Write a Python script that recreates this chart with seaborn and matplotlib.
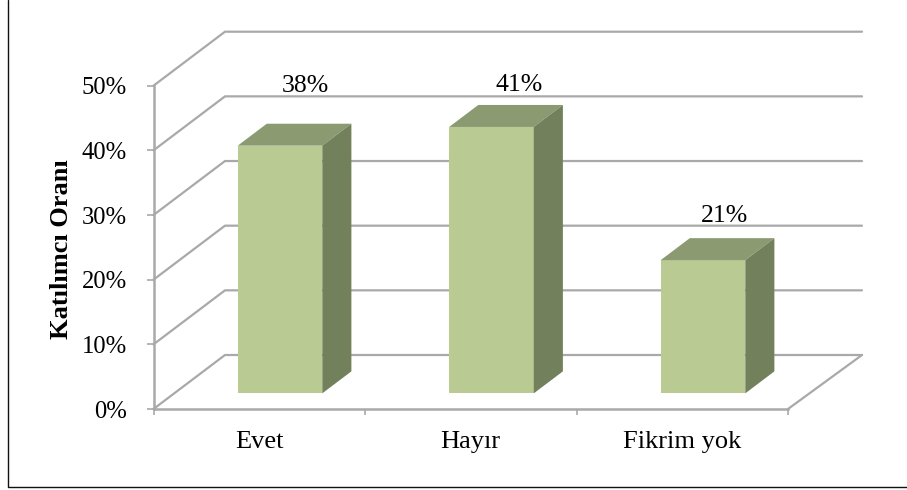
import matplotlib
matplotlib.use("Agg")
import matplotlib.pyplot as plt
import pandas as pd
import seaborn as sns
from matplotlib.lines import Line2D

categories = ["Evet", "Hayır", "Fikrim yok"]
values = [38.3, 41.2, 20.6]
value_labels = ["38%", "41%", "21%"]
y_ticks = [0, 10, 20, 30, 40, 50]
y_tick_labels = ["0%", "10%", "20%", "30%", "40%", "50%"]

df = pd.DataFrame({"Cevap": categories, "Oran": values})

sns.set_style("white")
plt.rcParams["font.family"] = ["Liberation Serif", "DejaVu Serif"]

GRID = "#a9a9a9"
FRONT = "#b9cb93"
TOP = "#8b9a70"
SIDE = "#72805c"

W, H = 907, 490
fig = plt.figure(figsize=(W / 100, H / 100), dpi=100)
ax = fig.add_axes([153.5 / W, (H - 409) / H, 634.5 / W, 323.3 / H])

sns.barplot(data=df, x="Cevap", y="Oran", color=FRONT, saturation=1, width=0.4, ax=ax,
            zorder=3, linewidth=0)
ax.set_xlim(-0.5, 2.5)
ax.set_ylim(0, 50)

# depth of the fake 3d box, in data units
depth_x = 71.5 / 211.5
depth_y = 54 / 6.466
back_right = 2.5 + 74 / 211.5

# back wall and floor
for t in y_ticks:
    ax.plot([-0.5, -0.5 + depth_x, back_right], [t, t + depth_y, t + depth_y],
            color=GRID, lw=1.6, clip_on=False, zorder=1)
ax.plot([2.5, back_right], [0, depth_y], color=GRID, lw=1.6, clip_on=False, zorder=1)

# push the bars into the box, then add top and side faces
front_offset = 0.29
bar_depth = 0.407
for bar in ax.patches:
    x0 = bar.get_x() + depth_x * front_offset
    y0 = depth_y * front_offset
    w = bar.get_width()
    h = bar.get_height()
    bar.set_x(x0)
    bar.set_y(y0)
    bar.set_clip_on(False)
    bx = depth_x * bar_depth
    by = depth_y * bar_depth
    ax.fill([x0, x0 + w, x0 + w + bx, x0 + bx], [y0 + h, y0 + h, y0 + h + by, y0 + h + by],
            color=TOP, lw=0, clip_on=False, zorder=3)
    ax.fill([x0 + w, x0 + w + bx, x0 + w + bx, x0 + w], [y0, y0 + by, y0 + h + by, y0 + h],
            color=SIDE, lw=0, clip_on=False, zorder=3)

# labels were moved by hand in the original, offsets in points
label_offsets = [(18.4, 43.3), (20, 30.5), (15.6, 32)]
for bar, txt, off in zip(ax.patches, value_labels, label_offsets):
    ax.annotate(txt, (bar.get_x() + bar.get_width() / 2, bar.get_y() + bar.get_height()),
                xytext=off, textcoords="offset points", ha="center", va="center",
                fontsize=18.5, color="black", annotation_clip=False, zorder=5)

sns.despine(ax=ax)
for side in ["left", "bottom"]:
    ax.spines[side].set_color(GRID)
    ax.spines[side].set_linewidth(1.8)
    ax.spines[side].set_zorder(2)

ax.set_yticks(y_ticks)
ax.set_yticklabels(y_tick_labels, fontsize=17.7)
ax.tick_params(axis="y", left=True, length=5, width=1.2, color=GRID, pad=14, labelcolor="black")
ax.set_xticks(range(len(categories)))
ax.set_xticklabels(categories, fontsize=19)
ax.set_xticks([-0.5, 0.5, 1.5, 2.5], minor=True)
ax.tick_params(axis="x", which="major", bottom=False, pad=12.5, labelcolor="black")
ax.tick_params(axis="x", which="minor", bottom=True, length=4, width=1.2, color=GRID)

ax.set_xlabel("")
ax.set_ylabel("")
fig.text(61.5 / W, 1 - 249 / H, "Katılımcı Oranı", rotation=90, ha="center", va="center",
         fontsize=19, fontweight="bold", color="black")

# only the left and bottom edges of the outer frame show
fig.add_artist(Line2D([7.5 / W, 7.5 / W, 1], [1, 1 - 486.5 / H, 1 - 486.5 / H],
                      transform=fig.transFigure, color="#111111", lw=1))

fig.savefig("out.png", dpi=100)
